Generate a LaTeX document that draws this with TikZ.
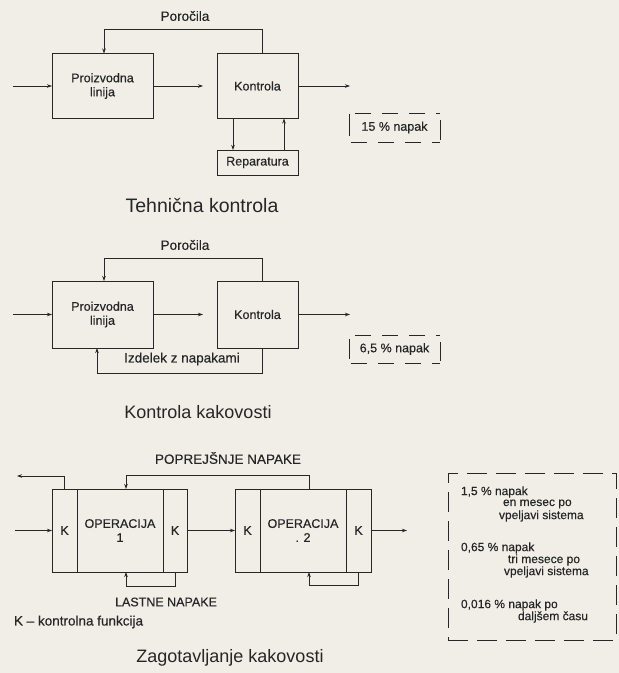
\documentclass[tikz,border=0pt]{standalone}
\usepackage{fontspec}
\setmainfont{Liberation Sans}
\newfontfamily\lblfont[FakeBold=0.35]{Liberation Sans}
\usetikzlibrary{arrows.meta}
\definecolor{paper}{HTML}{F0EEE7}
\definecolor{ink}{HTML}{262626}
\begin{document}
\begin{tikzpicture}[x=1pt,y=-1pt,line width=0.8pt,
  every node/.style={text=ink,inner sep=0pt,outer sep=0pt},
  box/.style={draw=ink,align=center,font=\lblfont\fontsize{12.5}{14}\selectfont},
  lbl/.style={font=\lblfont\fontsize{13.5}{15}\selectfont},
  nap/.style={font=\lblfont\fontsize{12.5}{14}\selectfont},
  small/.style={font=\lblfont\fontsize{12}{13}\selectfont,anchor=west},
  ttl/.style={font=\fontsize{18}{20}\selectfont},
  arr/.style={draw=ink,-{Stealth[length=5pt,width=3.5pt]}},
  ln/.style={draw=ink},
  dsh/.style={draw=ink,dash pattern={on 16pt off 11pt}},
  dshbig/.style={draw=ink,dash pattern={on 20pt off 9pt}}]
\fill[paper] (0,0) rectangle (619,673);
\useasboundingbox (0,0) rectangle (619,673);

% ---------- Diagram 1: Tehnicna kontrola
\node[box,minimum width=101,minimum height=65] (p1) at (102.5,86) {Proizvodna\\linija};
\node[box,minimum width=81,minimum height=65] (k1) at (257.5,86) {Kontrola};
\node[box,minimum width=81,minimum height=25] (r1) at (257.5,162.5) {Reparatura};
\node[lbl] (por1) at (185,16) {Poročila};
\coordinate (in1) at (13,86);
\coordinate (out1) at (350,86);
\coordinate (fa1) at (262,29);
\coordinate (fb1) at (104,29);
\coordinate (d1) at (233,0);
\coordinate (u1) at (284,0);
\draw[arr] (in1) -- (p1.west);
\draw[arr,shorten >=14pt] (p1.east) -- (k1.west);
\draw[arr] (k1.east) -- (out1);
\draw[arr] (k1.north -| fa1) -- (fa1) -- (fb1) -- (fb1 |- p1.north);
\draw[arr] (k1.south -| d1) -- (r1.north -| d1);
\draw[arr] (r1.north -| u1) -- (k1.south -| u1);
\node[nap,minimum width=91,minimum height=29] (n1) at (394.5,127.5) {15 \% napak};
\draw[dsh] ([xshift=6pt]n1.north west) -- (n1.north east);
\draw[dsh] ([xshift=2pt]n1.south west) -- (n1.south east);
\draw[ln] ([yshift=-1pt]n1.north west) -- ([yshift=6pt]n1.south west);
\draw[ln] ([yshift=-7pt]n1.north east) -- ([yshift=2pt]n1.south east);
\node[ttl,font=\fontsize{19.5}{21}\selectfont] (t1) at (202,205) {Tehnična kontrola};

% ---------- Diagram 2: Kontrola kakovosti
\node[box,minimum width=101,minimum height=67] (p2) at (102.5,314.5) {Proizvodna\\linija};
\node[box,minimum width=81,minimum height=67] (k2) at (257.5,314.5) {Kontrola};
\node[lbl] (por2) at (185,245) {Poročila};
\coordinate (in2) at (13,314.5);
\coordinate (out2) at (350,314.5);
\coordinate (fa2) at (262,258);
\coordinate (fb2) at (104,258);
\coordinate (ga2) at (262,373);
\coordinate (gb2) at (97,373);
\draw[arr] (in2) -- (p2.west);
\draw[arr,shorten >=14pt] (p2.east) -- (k2.west);
\draw[arr] (k2.east) -- (out2);
\draw[arr] (k2.north -| fa2) -- (fa2) -- (fb2) -- (fb2 |- p2.north);
\draw[arr] (k2.south -| ga2) -- (ga2) -- (gb2) -- (gb2 |- p2.south);
\node[lbl] (izd) at (182,359) {Izdelek z napakami};
\node[nap,minimum width=91,minimum height=28] (n2) at (394.5,349) {6,5 \% napak};
\draw[dsh] ([xshift=6pt]n2.north west) -- (n2.north east);
\draw[dsh] ([xshift=2pt]n2.south west) -- (n2.south east);
\draw[ln] ([yshift=-4pt]n2.north west) -- ([yshift=4pt]n2.south west);
\draw[ln] ([yshift=-7pt]n2.north east) -- ([yshift=2pt]n2.south east);
\node[ttl] (t2) at (198,412) {Kontrola kakovosti};

% ---------- Diagram 3: Zagotavljanje kakovosti
\node[box,minimum width=25,minimum height=83] (o1a) at (64.5,530.5) {K};
\node[box,minimum width=86,minimum height=83] (o1) at (120,530.5) {OPERACIJA\\1};
\node[box,minimum width=24,minimum height=83] (o1b) at (175,530.5) {K};
\node[box,minimum width=25,minimum height=83] (o2a) at (247.5,530.5) {K};
\node[box,minimum width=86,minimum height=83] (o2) at (303,530.5) {OPERACIJA\\. 2};
\node[box,minimum width=25,minimum height=83] (o2b) at (358.5,530.5) {K};
\coordinate (lo) at (17,476);
\coordinate (in3) at (15,530.5);
\coordinate (out3) at (407,530.5);
\coordinate (ta) at (309,475);
\coordinate (tb) at (126,475);
\coordinate (ba) at (175,586);
\coordinate (bb) at (126,586);
\coordinate (bc) at (358.5,585);
\coordinate (bd) at (309,585);
\draw[arr] (o1a.north) |- (lo);
\draw[arr] (in3) -- (o1a.west);
\draw[arr] (o1b.east) -- (o2a.west);
\draw[arr] (o2b.east) -- (out3);
\draw[arr] (o2.north -| ta) -- (ta) -- (tb) -- (tb |- o1.north);
\draw[arr] (o1b.south) -- (ba) -- (bb) -- (bb |- o1.south);
\draw[arr] (o2b.south) -- (bc) -- (bd) -- (bd |- o2.south);
\node[lbl] (pop) at (228,458) {POPREJŠNJE NAPAKE};
\node[lbl,font=\lblfont\fontsize{12.5}{14}\selectfont] (last) at (166,602) {LASTNE NAPAKE};
\node[lbl,anchor=west] (kk) at (14,622) {K – kontrolna funkcija};
\node[ttl] (t3) at (230,658) {Zagotavljanje kakovosti};

\node[dshbig,minimum width=168,minimum height=167] (bx) at (532,556.5) {};
\node[small] (s1) at (461,492) {1,5 \% napak};
\node[small] (s2) at (503,504) {en mesec po};
\node[small] (s3) at (499,516) {vpeljavi sistema};
\node[small] (s4) at (461,548) {0,65 \% napak};
\node[small] (s5) at (508,560) {tri mesece po};
\node[small] (s6) at (504,572) {vpeljavi sistema};
\node[small] (s7) at (461,605) {0,016 \% napak po};
\node[small] (s8) at (518,617) {daljšem času};
\end{tikzpicture}
\end{document}
